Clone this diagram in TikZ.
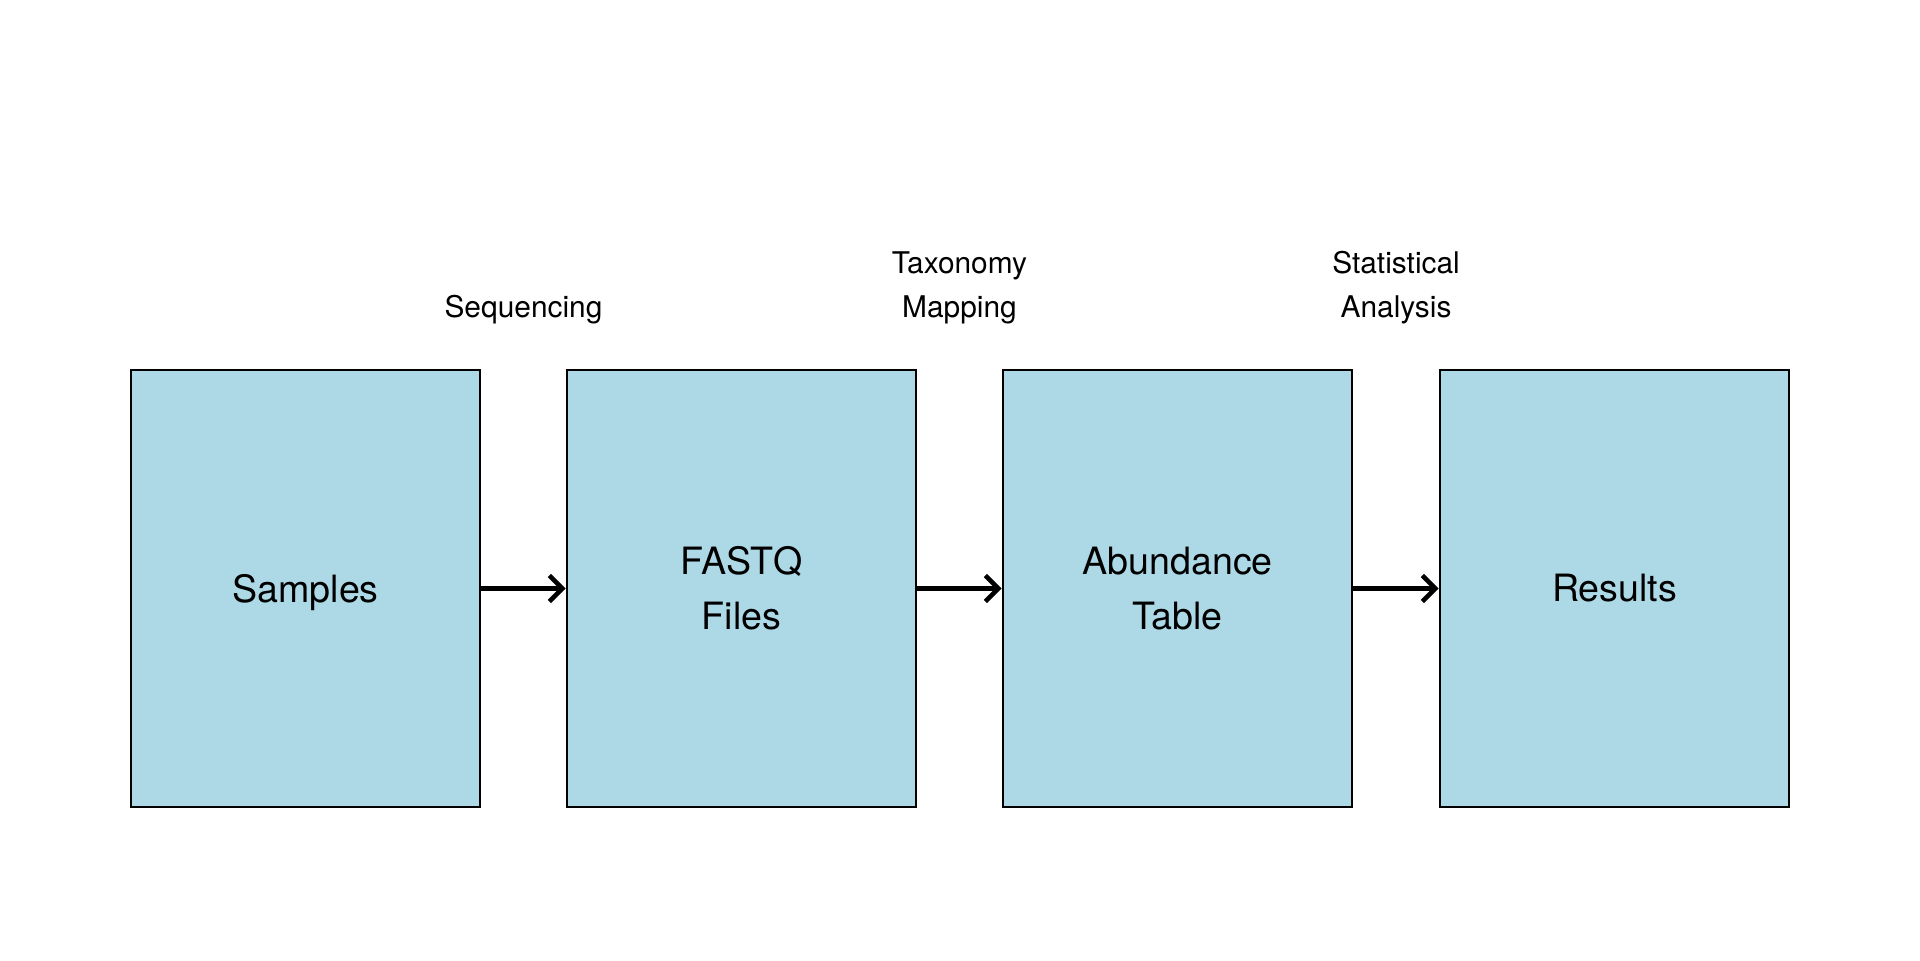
\documentclass[tikz,border=0pt]{standalone}
\usepackage{fontspec}
\setmainfont{TeX Gyre Heros}
\usetikzlibrary{arrows.meta}
\definecolor{boxblue}{HTML}{ADD8E6}
\begin{document}
\begin{tikzpicture}[
  stagebox/.style={draw=black, line width=0.8pt, fill=boxblue, minimum width=3.49cm, minimum height=4.37cm, inner sep=0pt, align=center, font=\fontsize{10.7}{15.6}\selectfont},
  steplabel/.style={align=center, font=\fontsize{8.5}{12.5}\selectfont, inner sep=0pt},
  flow/.style={line width=1.3pt, -{Straight Barb[length=1.3mm, width=2.6mm, line width=1.3pt]}}
]
\useasboundingbox (0,0) rectangle (19.2,9.6);
\node[stagebox, text depth=0pt] (s) at (3.055,3.715) {Samples};
\node[stagebox] (f) at (7.415,3.715) {FASTQ\\Files};
\node[stagebox] (a) at (11.775,3.715) {Abundance\\Table};
\node[stagebox] (r) at (16.145,3.715) {Results};
\draw[flow] (s.east) -- (f.west);
\draw[flow] (f.east) -- (a.west);
\draw[flow] (a.east) -- (r.west);
\node[steplabel] (l1) at (5.235,6.50) {Sequencing};
\node[steplabel] (l2) at (9.595,6.72) {Taxonomy\\Mapping};
\node[steplabel] (l3) at (13.96,6.72) {Statistical\\Analysis};
\end{tikzpicture}
\end{document}
